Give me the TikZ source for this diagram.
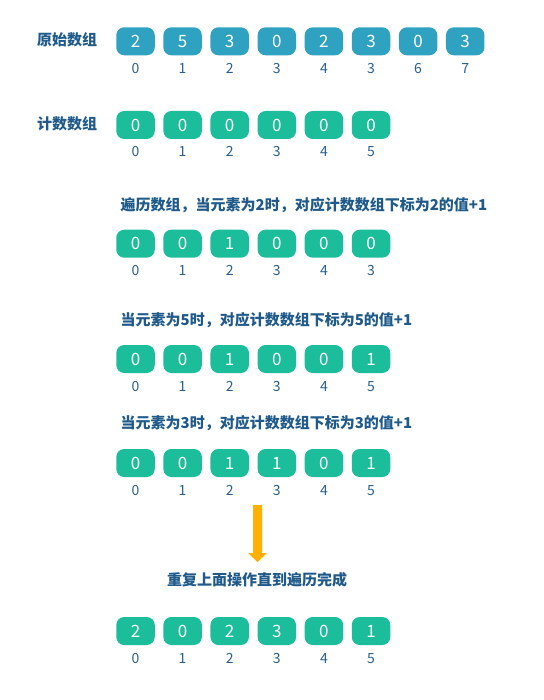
\documentclass[tikz,border=0pt]{standalone}
\usepackage{fontspec}
\setmainfont{Noto Sans CJK SC}
\newfontfamily\cjk{Noto Sans CJK SC}
\definecolor{cblue}{HTML}{2EA2C0}
\definecolor{cgreen}{HTML}{1CBD9B}
\definecolor{ctext}{HTML}{1F5A8A}
\definecolor{cidx}{HTML}{2A5F8F}
\definecolor{corange}{HTML}{FFB000}
\tikzset{
  cell/.style={rounded corners=8pt, minimum width=38.5pt, minimum height=28pt, inner sep=0pt, text height=12.3pt, text depth=0pt, text=white, font=\cjk\fontsize{17}{17}\selectfont},
  bcell/.style={cell, fill=cblue},
  gcell/.style={cell, fill=cgreen},
  idx/.style={text=cidx, inner sep=0pt, text height=10.2pt, text depth=0pt, font=\cjk\fontsize{14}{14}\selectfont},
  title/.style={text=ctext, inner sep=0pt, font=\cjk\bfseries\fontsize{15}{15}\selectfont},
}
\begin{document}
\begin{tikzpicture}[x=1pt,y=-1pt]
\useasboundingbox (0,0) rectangle (543,700);
% labels
\node[title, anchor=west] (l1) at (37,40) {原始数组};
\node[title, anchor=west] (l2) at (37,124) {计数数组};
% row 1
\foreach \v [count=\i from 0] in {2,5,3,0,2,3,0,3} {
  \node[bcell] (a\i) at ({135.5+47.1*\i},41.3) {\v};
}
\foreach \v [count=\i from 0] in {0,1,2,3,4,3,6,7} {
  \node[idx] (ai\i) at ({135.5+47.1*\i},68) {\v};
}
% row 2
\foreach \v [count=\i from 0] in {0,0,0,0,0,0} {
  \node[gcell] (b\i) at ({135.5+47.1*\i},125) {\v};
  \node[idx] (bi\i) at ({135.5+47.1*\i},151) {\i};
}
% row 3
\node[title, anchor=west] (t3) at (120.5,205) {遍历数组，当元素为2时，对应计数数组下标为2的值+1};
\foreach \v [count=\i from 0] in {0,0,1,0,0,0} {
  \node[gcell] (c\i) at ({135.5+47.1*\i},243.7) {\v};
}
\foreach \v [count=\i from 0] in {0,1,2,3,4,3} {
  \node[idx] (ci\i) at ({135.5+47.1*\i},270) {\v};
}
% row 4
\node[title, anchor=west] (t4) at (120.5,320) {当元素为5时，对应计数数组下标为5的值+1};
\foreach \v [count=\i from 0] in {0,0,1,0,0,1} {
  \node[gcell] (d\i) at ({135.5+47.1*\i},359) {\v};
  \node[idx] (di\i) at ({135.5+47.1*\i},386) {\i};
}
% row 5
\node[title, anchor=west] (t5) at (120.5,423) {当元素为3时，对应计数数组下标为3的值+1};
\foreach \v [count=\i from 0] in {0,0,1,1,0,1} {
  \node[gcell] (e\i) at ({135.5+47.1*\i},463) {\v};
  \node[idx] (ei\i) at ({135.5+47.1*\i},490) {\i};
}
% arrow
\coordinate (as) at (257.5,505);
\coordinate (ae) at (257.5,562);
\fill[corange] (253,505) -- (262,505) -- (262,553) -- (267,553) -- (ae) -- (248,553) -- (253,553) -- cycle;
% final
\node[title] (t6) at (257,580) {重复上面操作直到遍历完成};
\foreach \v [count=\i from 0] in {2,0,2,3,0,1} {
  \node[gcell] (f\i) at ({135.5+47.1*\i},631) {\v};
  \node[idx] (fi\i) at ({135.5+47.1*\i},658) {\i};
}
\end{tikzpicture}
\end{document}
